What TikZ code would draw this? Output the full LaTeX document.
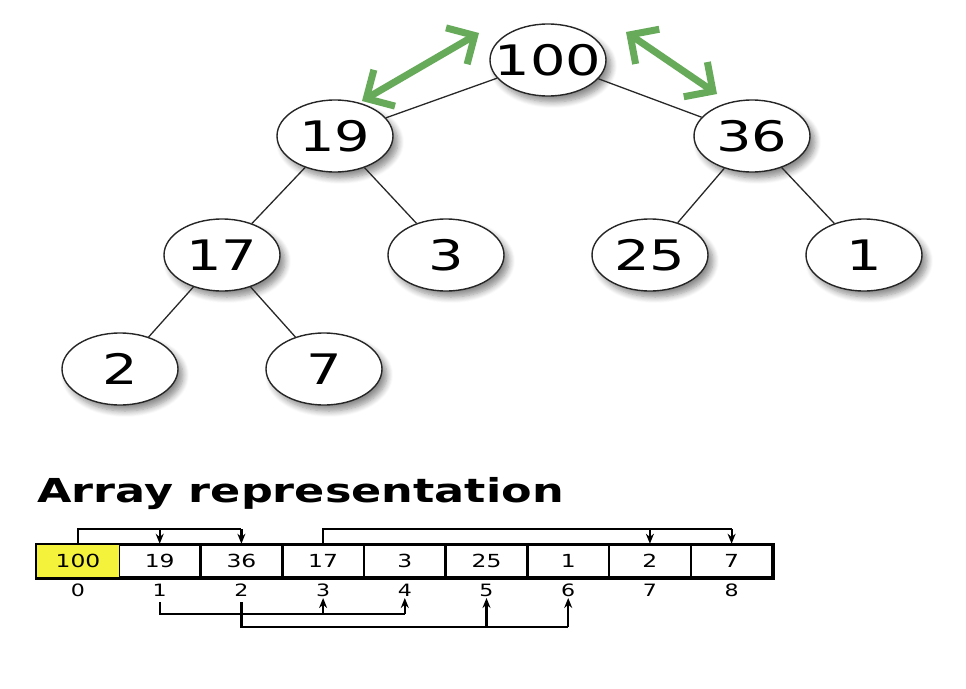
\documentclass[tikz,border=0pt]{standalone}
\usepackage{fontspec}
\setmainfont{DejaVu Sans}
\newfontfamily\treefont[FakeStretch=1.33]{DejaVu Sans}
\newfontfamily\cellfont[FakeStretch=1.3]{DejaVu Sans}
\newfontfamily\titlefont[FakeStretch=1.35]{DejaVu Sans Bold}
\usetikzlibrary{shapes.geometric,shadows.blur,arrows.meta}
\definecolor{arrgreen}{RGB}{102,170,90}
\definecolor{cellyellow}{RGB}{245,242,60}
\definecolor{edgegray}{RGB}{40,40,40}
\newcommand{\tn}[1]{\makebox[0pt][c]{#1}}
\begin{document}
\begin{tikzpicture}[x=1pt,y=-1pt,
  treenode/.style={ellipse,draw=black!85,line width=1.4pt,fill=white,minimum width=116pt,minimum height=72pt,inner sep=0pt,
    font=\treefont\fontsize{42}{42}\selectfont,
    blur shadow={shadow xshift=5pt,shadow yshift=-6pt,shadow blur steps=8,shadow blur radius=6pt,shadow opacity=45}},
  treeedge/.style={draw=edgegray,line width=1.3pt},
  swaparrow/.style={draw=arrgreen,line width=7pt,{Straight Barb[length=21pt,width=42pt]}-{Straight Barb[length=21pt,width=42pt]}},
  cell/.style={rectangle,draw=black,line width=2.5pt,minimum width=81.7pt,minimum height=32pt,inner sep=0pt,anchor=center,
    font=\cellfont\fontsize{18}{18}\selectfont},
  idx/.style={inner sep=0pt,font=\cellfont\fontsize{17}{17}\selectfont},
  link/.style={draw=black,line width=2.2pt},
  linkarrow/.style={draw=black,line width=2.2pt,-{Stealth[length=10pt,width=8pt]}}
]
\useasboundingbox (0,0) rectangle (966,688);
% tree
\node[treenode] (n100) at (548,60) {\tn{100}};
\node[treenode] (n19) at (335,136) {\tn{19}};
\node[treenode] (n36) at (752,136) {\tn{36}};
\node[treenode] (n17) at (222,255) {\tn{17}};
\node[treenode] (n3) at (446,255) {\tn{3}};
\node[treenode] (n25) at (650,255) {\tn{25}};
\node[treenode] (n1) at (864,255) {\tn{1}};
\node[treenode] (n2) at (120,369) {\tn{2}};
\node[treenode] (n7) at (324,369) {\tn{7}};
\draw[treeedge] (n100) -- (n19);
\draw[treeedge] (n100) -- (n36);
\draw[treeedge] (n19) -- (n17);
\draw[treeedge] (n19) -- (n3);
\draw[treeedge] (n36) -- (n25);
\draw[treeedge] (n36) -- (n1);
\draw[treeedge] (n17) -- (n2);
\draw[treeedge] (n17) -- (n7);
% green swap arrows
\coordinate (gl1) at (362,101);
\coordinate (gl2) at (479,33);
\coordinate (gr1) at (626,32);
\coordinate (gr2) at (717,94);
\draw[swaparrow] (gl1) -- (gl2);
\draw[swaparrow] (gr1) -- (gr2);
% title
\node[anchor=base west,inner sep=0pt,font=\titlefont\fontsize{33}{33}\selectfont] (title) at (37,502) {Array representation};
% array
\foreach \v [count=\i from 0] in {100,19,36,17,3,25,1,2,7} {
  \node[cell] (c\i) at ({78+81.7*\i},561) {\v};
  \node[idx] (i\i) at ({78+81.7*\i},590) {\i};
}
\fill[cellyellow] ([shift={(1pt,-1pt)}]c0.south west) rectangle ([shift={(-1pt,1pt)}]c0.north east);
\node[cell,draw=none] at (c0) {100};
\draw[black,line width=2.5pt] (c0.north west) rectangle (c8.south east);
% top links
\draw[link] (c0.north) -- (c0.north |- 0,529) -- (c2.north |- 0,529);
\draw[linkarrow] (c1.north |- 0,529) -- (c1.north);
\draw[linkarrow] (c2.north |- 0,529) -- (c2.north);
\draw[link] (c3.north) -- (c3.north |- 0,529) -- (c8.north |- 0,529);
\draw[linkarrow] (c7.north |- 0,529) -- (c7.north);
\draw[linkarrow] (c8.north |- 0,529) -- (c8.north);
% bottom links
\draw[link] (i1.south |- 0,602) -- (i1.south |- 0,614) -- (i4.south |- 0,614);
\draw[linkarrow] (i3.south |- 0,614) -- (i3.south |- 0,598);
\draw[linkarrow] (i4.south |- 0,614) -- (i4.south |- 0,598);
\draw[link] (i2.south |- 0,602) -- (i2.south |- 0,627) -- (i6.south |- 0,627);
\draw[linkarrow] (i5.south |- 0,627) -- (i5.south |- 0,598);
\draw[linkarrow] (i6.south |- 0,627) -- (i6.south |- 0,598);
\end{tikzpicture}
\end{document}
